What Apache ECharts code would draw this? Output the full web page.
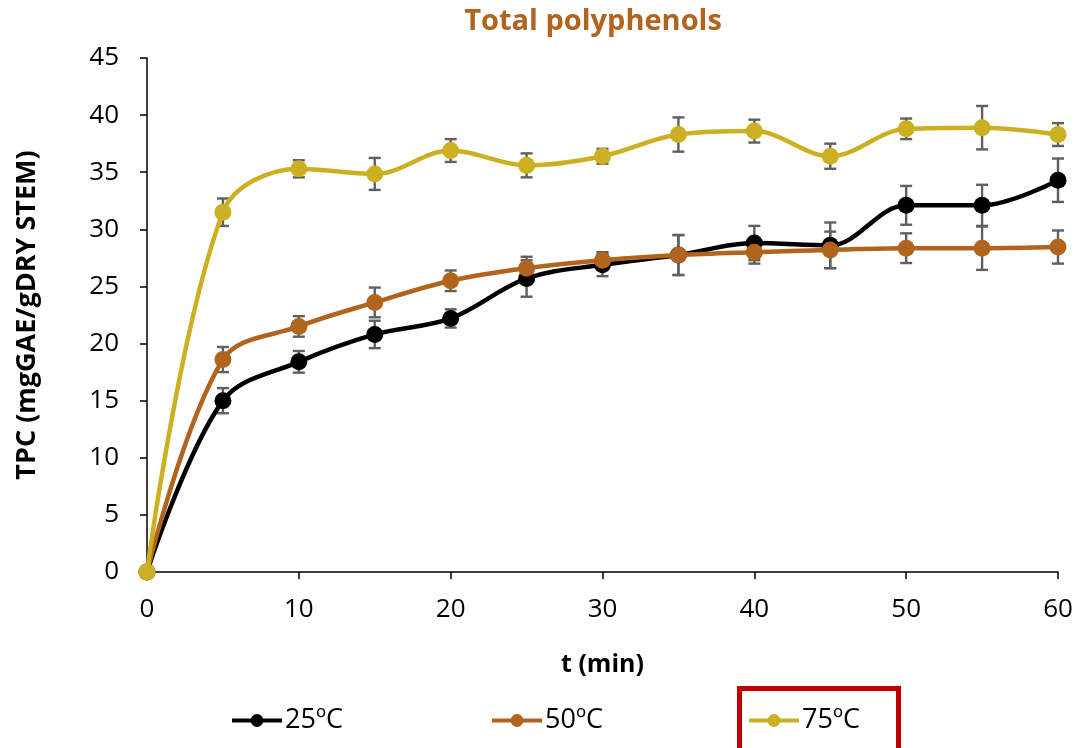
<!DOCTYPE html>
<html>
<head>
<meta charset="utf-8">
<script src="https://cdn.jsdelivr.net/npm/echarts@6/dist/echarts.min.js"></script>
<style>
  html, body { margin: 0; padding: 0; background: #fff; }
  #chart { width: 1077px; height: 748px; }
</style>
</head>
<body>
<div id="chart"></div>
<script>
// Extraction time (min)
const times = [0, 5, 10, 15, 20, 25, 30, 35, 40, 45, 50, 55, 60];

// TPC (mgGAE/gDRY STEM) at each temperature
const tpc25 = [0, 15.0, 18.4, 20.8, 22.2, 25.7, 26.9, 27.75, 28.8, 28.6, 32.1, 32.1, 34.3];
const tpc50 = [0, 18.6, 21.5, 23.6, 25.5, 26.6, 27.3, 27.75, 28.0, 28.2, 28.35, 28.35, 28.45];
const tpc75 = [0, 31.5, 35.3, 34.85, 36.9, 35.6, 36.4, 38.3, 38.6, 36.4, 38.8, 38.9, 38.3];

// Standard deviations
const sd25 = [0, 1.1, 0.95, 1.2, 0.8, 1.6, 1.0, 1.75, 1.5, 2.0, 1.7, 1.8, 1.9];
const sd50 = [0, 1.1, 0.9, 1.3, 0.9, 1.0, 0.7, 1.75, 1.0, 1.6, 1.3, 1.9, 1.45];
const sd75 = [0, 1.2, 0.75, 1.4, 1.0, 1.05, 0.65, 1.5, 1.0, 1.1, 0.9, 1.9, 1.0];

const seriesNames = ['25ºC', '50ºC', '75ºC'];
const colors = ['#000000', '#B0641E', '#CDB021'];

const FONT = '"Liberation Sans Narrow", "Open Sans", "Noto Sans", sans-serif';

function pairs(vals) { return times.map((t, i) => [t, vals[i]]); }

function errorData(vals, sds) {
  return times.map((t, i) => [t, vals[i] - sds[i], vals[i] + sds[i]]);
}

function errorSeries(vals, sds, z) {
  return {
    type: 'custom',
    z: z,
    silent: true,
    data: errorData(vals, sds),
    encode: { x: 0, y: [1, 2] },
    renderItem: function (params, api) {
      const x = api.value(0);
      const lo = api.coord([x, api.value(1)]);
      const hi = api.coord([x, api.value(2)]);
      const cap = 6;
      const style = { stroke: '#5f5f5f', lineWidth: 2.4 };
      return {
        type: 'group',
        children: [
          { type: 'line', shape: { x1: lo[0], y1: lo[1], x2: hi[0], y2: hi[1] }, style: style },
          { type: 'line', shape: { x1: lo[0] - cap, y1: lo[1], x2: lo[0] + cap, y2: lo[1] }, style: style },
          { type: 'line', shape: { x1: hi[0] - cap, y1: hi[1], x2: hi[0] + cap, y2: hi[1] }, style: style }
        ]
      };
    }
  };
}

function lineSeries(name, vals, color, z) {
  return {
    name: name,
    type: 'line',
    z: z,
    smooth: 0.35,
    data: pairs(vals),
    symbol: 'circle',
    symbolSize: 17,
    showSymbol: true,
    lineStyle: { color: color, width: 4.5 },
    itemStyle: { color: color },
    emphasis: { disabled: true }
  };
}

// One legend block per series so each entry sits at its own spot along the bottom
function legendBlock(name, left) {
  return {
    data: [name],
    top: 702,
    left: left,
    itemWidth: 50,
    itemHeight: 16,
    lineStyle: { width: 4 },
    textStyle: { fontFamily: FONT, fontSize: 27, color: '#000', padding: [0, 0, 0, -2] }
  };
}

const chart = echarts.init(document.getElementById('chart'), null, { renderer: 'canvas' });

chart.setOption({
  animation: false,
  backgroundColor: '#ffffff',
  title: {
    text: 'Total polyphenols',
    left: 588,
    textAlign: 'center',
    top: 2,
    textStyle: { fontFamily: FONT, fontSize: 29, fontWeight: 'bold', color: '#B0641E' }
  },
  grid: { left: 147, right: 19, top: 58, bottom: 176 },
  xAxis: {
    type: 'value',
    min: 0, max: 60, interval: 10,
    name: 't (min)',
    nameLocation: 'middle',
    nameGap: 80,
    nameTextStyle: { fontFamily: FONT, fontSize: 25, fontWeight: 'bold', color: '#000' },
    axisLine: { show: true, lineStyle: { color: '#000', width: 1.5 } },
    axisTick: { show: true, inside: false, length: 7, lineStyle: { color: '#000', width: 1.5 } },
    axisLabel: { fontFamily: FONT, fontSize: 26, color: '#000', margin: 25 },
    splitLine: { show: false }
  },
  yAxis: {
    type: 'value',
    min: 0, max: 45, interval: 5,
    name: 'TPC (mgGAE/gDRY STEM)',
    nameLocation: 'middle',
    nameGap: 106,
    nameTextStyle: { fontFamily: FONT, fontSize: 27, fontWeight: 'bold', color: '#000' },
    axisLine: { show: true, lineStyle: { color: '#000', width: 1.5 } },
    axisTick: { show: true, inside: false, length: 7, lineStyle: { color: '#000', width: 1.5 } },
    axisLabel: { fontFamily: FONT, fontSize: 26, color: '#000', margin: 28 },
    splitLine: { show: false }
  },
  legend: [
    legendBlock(seriesNames[0], 225),
    legendBlock(seriesNames[1], 485),
    legendBlock(seriesNames[2], 742)
  ],
  graphic: [
    {
      type: 'rect',
      left: 737, top: 686,
      shape: { width: 159, height: 66 },
      style: { fill: 'none', stroke: '#C00000', lineWidth: 5 },
      z: 100
    }
  ],
  series: [
    errorSeries(tpc25, sd25, 1),
    errorSeries(tpc50, sd50, 1),
    errorSeries(tpc75, sd75, 1),
    lineSeries(seriesNames[0], tpc25, colors[0], 3),
    lineSeries(seriesNames[1], tpc50, colors[1], 4),
    lineSeries(seriesNames[2], tpc75, colors[2], 5)
  ]
});
</script>
</body>
</html>
